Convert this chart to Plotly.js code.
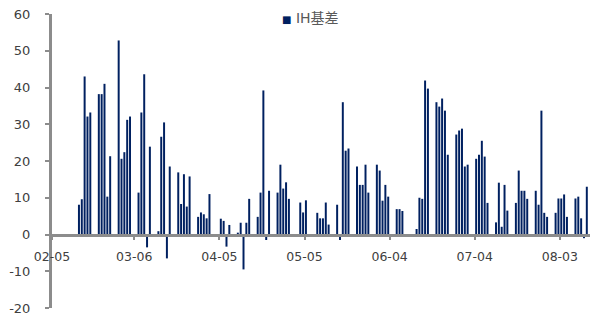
<!DOCTYPE html>
<html>
<head>
<meta charset="utf-8">
<script src="https://cdn.plot.ly/plotly-3.0.1.min.js"></script>
<style>html,body{margin:0;padding:0;background:#fff;}#chart{width:591px;height:318px;}</style>
</head>
<body>
<div id="chart"></div>
<script>
// Trading dates (2022) and IH basis values
const dates = [
 "2022-02-14","2022-02-15","2022-02-16","2022-02-17","2022-02-18",
 "2022-02-21","2022-02-22","2022-02-23","2022-02-24","2022-02-25",
 "2022-02-28","2022-03-01","2022-03-02","2022-03-03","2022-03-04",
 "2022-03-07","2022-03-08","2022-03-09","2022-03-10","2022-03-11",
 "2022-03-14","2022-03-15","2022-03-16","2022-03-17","2022-03-18",
 "2022-03-21","2022-03-22","2022-03-23","2022-03-24","2022-03-25",
 "2022-03-28","2022-03-29","2022-03-30","2022-03-31","2022-04-01",
 "2022-04-05","2022-04-06","2022-04-07","2022-04-08",
 "2022-04-11","2022-04-12","2022-04-13","2022-04-14","2022-04-15",
 "2022-04-18","2022-04-19","2022-04-20","2022-04-21","2022-04-22",
 "2022-04-25","2022-04-26","2022-04-27","2022-04-28","2022-04-29",
 "2022-05-03","2022-05-04","2022-05-05",
 "2022-05-09","2022-05-10","2022-05-11","2022-05-12","2022-05-13",
 "2022-05-16","2022-05-17","2022-05-18","2022-05-19","2022-05-20",
 "2022-05-23","2022-05-24","2022-05-25","2022-05-26","2022-05-27",
 "2022-05-30","2022-05-31","2022-06-01","2022-06-02","2022-06-03",
 "2022-06-06","2022-06-07","2022-06-08",
 "2022-06-13","2022-06-14","2022-06-15","2022-06-16","2022-06-17",
 "2022-06-20","2022-06-21","2022-06-22","2022-06-23","2022-06-24",
 "2022-06-27","2022-06-28","2022-06-29","2022-06-30","2022-07-01",
 "2022-07-04","2022-07-05","2022-07-06","2022-07-07","2022-07-08",
 "2022-07-11","2022-07-12","2022-07-13","2022-07-14","2022-07-15",
 "2022-07-18","2022-07-19","2022-07-20","2022-07-21","2022-07-22",
 "2022-07-25","2022-07-26","2022-07-27","2022-07-28","2022-07-29",
 "2022-08-01","2022-08-02","2022-08-03","2022-08-04","2022-08-05",
 "2022-08-08","2022-08-09","2022-08-10","2022-08-11","2022-08-12"
];
const ihBasis = [
 8.1, 9.6, 43.0, 32.1, 33.2,
 38.2, 38.2, 41.0, 10.3, 21.3,
 52.8, 20.6, 22.4, 31.2, 32.1,
 11.4, 33.2, 43.6, -3.5, 23.9,
 0.9, 26.6, 30.5, -6.5, 18.5,
 16.9, 8.3, 16.4, 7.6, 15.8,
 4.8, 6.0, 5.5, 4.4, 11.0,
 4.3, 3.7, -3.3, 2.6,
 0.5, 3.2, -9.5, 3.2, 9.7,
 4.8, 11.4, 39.2, -1.5, 11.9,
 11.4, 19.0, 12.5, 14.2, 9.7,
 8.7, 6.0, 9.3,
 5.9, 4.4, 4.4, 8.7, 2.7,
 8.1, -1.5, 36.0, 22.8, 23.4,
 18.5, 13.5, 13.5, 19.0, 11.4,
 19.0, 17.4, 9.2, 13.5, 10.3,
 6.9, 6.9, 6.4,
 1.5, 10.0, 9.7, 41.9, 39.7,
 36.0, 34.8, 37.0, 33.7, 21.7,
 27.2, 28.3, 28.8, 18.5, 19.0,
 20.6, 21.7, 25.5, 21.2, 8.6,
 3.3, 14.1, 2.1, 13.5, 6.5,
 8.6, 17.4, 11.9, 11.9, 9.7,
 11.9, 8.1, 33.7, 5.9, 4.8,
 5.9, 9.8, 9.8, 10.9, 4.8,
 9.8, 10.3, 4.4, -1.0, 13.0
];
const seriesName = "IH基差";
const tickDates = ["2022-02-05","2022-03-06","2022-04-05","2022-05-05","2022-06-04","2022-07-04","2022-08-03"];
const tickLabels = ["02-05","03-06","04-05","05-05","06-04","07-04","08-03"];
const yTicks = [-20,-10,0,10,20,30,40,50,60];

// ticks sit on the boundary half a day before each labelled date
function halfDayBefore(d){
  const t = new Date(d + "T00:00:00Z").getTime() - 12*3600*1000;
  const z = new Date(t);
  const p = n => String(n).padStart(2,"0");
  return z.getUTCFullYear()+"-"+p(z.getUTCMonth()+1)+"-"+p(z.getUTCDate())+" "+p(z.getUTCHours())+":00";
}
const tickVals = tickDates.map(halfDayBefore);

const barColor = "#002060";
const axisGray = "#8c8c8c";
const labelColor = "#404040";
const fontFam = "DejaVu Sans, Noto Sans CJK SC, sans-serif";

const trace = {
  type: "bar",
  x: dates,
  y: ihBasis,
  name: seriesName,
  marker: {color: barColor, line: {width: 0}},
  showlegend: false,
  hoverinfo: "x+y"
};

const layout = {
  width: 591, height: 318,
  margin: {l: 52, r: 1, t: 14, b: 10, pad: 0},
  paper_bgcolor: "#fff", plot_bgcolor: "#fff",
  bargap: 0.3,
  showlegend: false,
  font: {family: fontFam, color: labelColor},
  xaxis: {
    type: "date",
    range: [tickVals[0], "2022-08-13 03:00"],
    tickmode: "array", tickvals: tickVals, ticktext: tickLabels,
    showgrid: false, zeroline: false,
    showline: true, linecolor: axisGray, linewidth: 3,
    ticks: "outside", ticklen: 3, tickwidth: 2, tickcolor: axisGray,
    anchor: "free", position: 0.25,
    tickfont: {size: 12.5, color: labelColor, family: fontFam},
    ticklabelstandoff: 6
  },
  yaxis: {
    range: [-20, 60],
    tickmode: "array", tickvals: yTicks, ticktext: yTicks.map(String),
    showgrid: false, zeroline: false,
    showline: true, linecolor: axisGray, linewidth: 3,
    ticks: "outside", ticklen: 4, tickwidth: 2, tickcolor: axisGray,
    tickfont: {size: 13, color: labelColor, family: fontFam},
    ticklabelstandoff: 12
  },
  annotations: [{
    xref: "paper", yref: "paper",
    x: 0.424, y: 0.985, xanchor: "left", yanchor: "middle",
    showarrow: false,
    text: '<span style="color:' + barColor + ';font-size:10px">■</span> ' + seriesName,
    font: {size: 14, color: "#595959", family: fontFam}
  }]
};

Plotly.newPlot("chart", [trace], layout, {displayModeBar: false, staticPlot: true});
</script>
</body>
</html>
